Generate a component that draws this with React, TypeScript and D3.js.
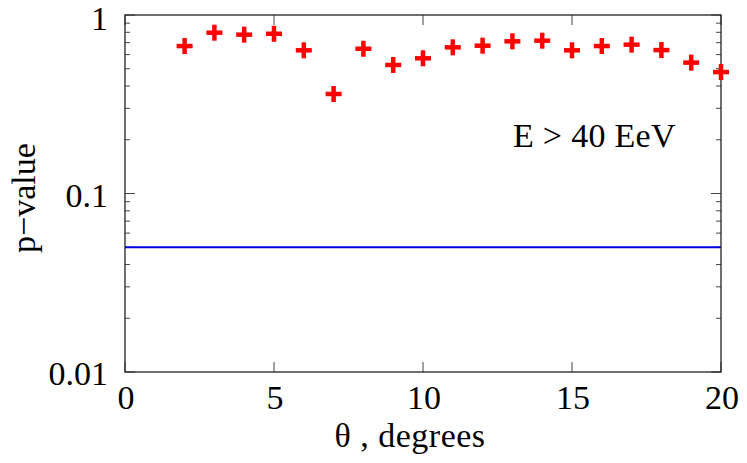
import { useEffect, useRef } from "react";
import * as d3 from "d3";

// p-value per opening angle, E > 40 EeV
const angles = [2, 3, 4, 5, 6, 7, 8, 9, 10, 11, 12, 13, 14, 15, 16, 17, 18, 19, 20];
const pValues = [0.67, 0.796, 0.776, 0.785, 0.634, 0.361, 0.647, 0.525, 0.572, 0.659, 0.673, 0.712, 0.718, 0.634, 0.67, 0.682, 0.636, 0.541, 0.479];
const threshold = 0.05;
const xTicks = [0, 5, 10, 15, 20];
const yTicks = [0.01, 0.1, 1];
const yTickLabels = ["0.01", "0.1", "1"];

const width = 747;
const height = 463;
const margin = { top: 15, right: 26, bottom: 91, left: 125 };
const font = "'Liberation Serif', 'DejaVu Serif', serif";

export default function App() {
  const svgRef = useRef<SVGSVGElement | null>(null);

  useEffect(() => {
    if (!svgRef.current) return;
    const svg = d3.select(svgRef.current);
    svg.selectAll("*").remove();

    const innerW = width - margin.left - margin.right;
    const innerH = height - margin.top - margin.bottom;
    const x = d3.scaleLinear().domain([0, 20]).range([0, innerW]);
    const y = d3.scaleLog().domain([0.01, 1]).range([innerH, 0]);

    const root = svg.append("g").attr("transform", `translate(${margin.left},${margin.top})`);
    const tickColor = "#444";

    // minor y ticks (2..9 of each decade)
    const minor: number[] = [];
    [0.01, 0.1].forEach((d) => {
      for (let k = 2; k <= 9; k++) minor.push(d * k);
    });

    const ticks = root.append("g").attr("stroke", tickColor).attr("stroke-width", 1);
    minor.forEach((v) => {
      ticks.append("line").attr("x1", 0).attr("x2", 5).attr("y1", y(v)).attr("y2", y(v));
      ticks.append("line").attr("x1", innerW).attr("x2", innerW - 5).attr("y1", y(v)).attr("y2", y(v));
    });
    yTicks.forEach((v) => {
      ticks.append("line").attr("x1", 0).attr("x2", 10).attr("y1", y(v)).attr("y2", y(v));
      ticks.append("line").attr("x1", innerW).attr("x2", innerW - 10).attr("y1", y(v)).attr("y2", y(v));
    });
    xTicks.forEach((v) => {
      ticks.append("line").attr("x1", x(v)).attr("x2", x(v)).attr("y1", innerH).attr("y2", innerH - 10);
      ticks.append("line").attr("x1", x(v)).attr("x2", x(v)).attr("y1", 0).attr("y2", 10);
    });

    // threshold line
    root
      .append("line")
      .attr("x1", 0)
      .attr("x2", innerW)
      .attr("y1", y(threshold))
      .attr("y2", y(threshold))
      .attr("stroke", "#0000e6")
      .attr("stroke-width", 2);

    // frame
    root
      .append("rect")
      .attr("width", innerW)
      .attr("height", innerH)
      .attr("fill", "none")
      .attr("stroke", "#222")
      .attr("stroke-width", 1.3);

    // plus markers
    const marks = root
      .selectAll("g.mark")
      .data(angles.map((a, i) => ({ a, p: pValues[i] })))
      .enter()
      .append("g")
      .attr("class", "mark")
      .attr("transform", (d) => `translate(${x(d.a)},${y(d.p)})`)
      .attr("stroke", "#ff0000")
      .attr("stroke-width", 4.5);
    marks.append("line").attr("x1", -8).attr("x2", 8);
    marks.append("line").attr("y1", -8).attr("y2", 8);

    // tick labels (top label nudged so it stays inside the page)
    root
      .selectAll("text.ylab")
      .data(yTicks)
      .enter()
      .append("text")
      .attr("x", -17)
      .attr("y", (d) => y(d) + (d === 1 ? 15 : 13))
      .attr("text-anchor", "end")
      .style("font-family", font)
      .style("font-size", "34px")
      .text((_, i) => yTickLabels[i]);

    root
      .selectAll("text.xlab")
      .data(xTicks)
      .enter()
      .append("text")
      .attr("x", (d) => x(d) + 1)
      .attr("y", innerH + 37)
      .attr("text-anchor", "middle")
      .style("font-family", font)
      .style("font-size", "34px")
      .text((d) => String(d));

    // axis titles
    svg
      .append("text")
      .attr("x", 410)
      .attr("y", 447)
      .attr("text-anchor", "middle")
      .style("font-family", font)
      .style("font-size", "34px")
      .style("letter-spacing", "0.5px")
      .text("θ , degrees");

    svg
      .append("text")
      .attr("transform", "translate(35,198) rotate(-90)")
      .attr("text-anchor", "middle")
      .style("font-family", font)
      .style("font-size", "34px")
      .text("p−value");

    root
      .append("text")
      .attr("x", 513 - margin.left)
      .attr("y", 147 - margin.top)
      .style("font-family", font)
      .style("font-size", "34px")
      .style("letter-spacing", "0.3px")
      .text("E > 40 EeV");
  }, []);

  return (
    <svg
      ref={svgRef}
      width={width}
      height={height}
      style={{ position: "absolute", left: 0, top: 0, background: "#fff" }}
    />
  );
}
